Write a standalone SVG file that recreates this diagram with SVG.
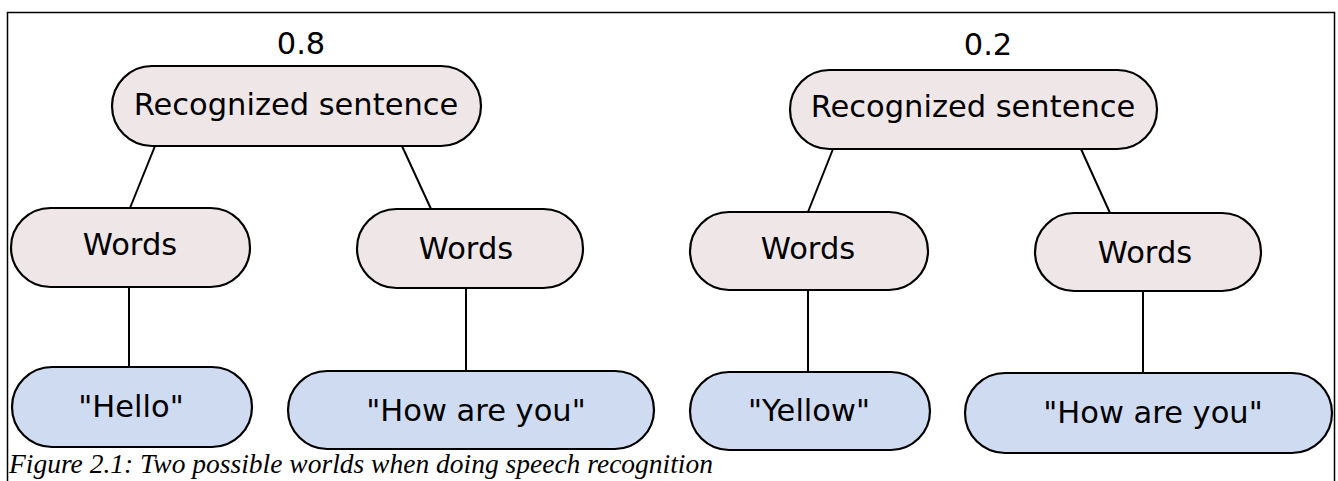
<svg xmlns="http://www.w3.org/2000/svg" width="1338" height="481" viewBox="0 0 1338 481">
  <style>
    .frame { fill: #ffffff; stroke: #000000; stroke-width: 1.5; }
    .node { stroke: #000000; stroke-width: 2.2; }
    .inner { fill: #efe7e7; }
    .leaf { fill: #cfdbf1; }
    .label { font-family: "DejaVu Sans", Verdana, sans-serif; font-size: 30.5px; fill: #000000; text-anchor: middle; }
    .edge { stroke: #000000; stroke-width: 2; fill: none; }
    .caption { font-family: "Liberation Serif", "Times New Roman", serif; font-style: italic; font-size: 27.5px; fill: #000000; }
  </style>

  <!-- page frame -->
  <rect class="frame" x="7.5" y="12.5" width="1327" height="490"/>

  <!-- probabilities -->
  <text class="label" x="301" y="54">0.8</text>
  <text class="label" x="988" y="55">0.2</text>

  <!-- connectors -->
  <g id="edges">
    <line class="edge" x1="155" y1="146" x2="130" y2="208"/>
    <line class="edge" x1="402" y1="146" x2="431" y2="209"/>
    <line class="edge" x1="129" y1="287" x2="129" y2="367"/>
    <line class="edge" x1="466" y1="288" x2="466" y2="371"/>
    <line class="edge" x1="833" y1="149" x2="808" y2="212"/>
    <line class="edge" x1="1081" y1="149" x2="1110" y2="213"/>
    <line class="edge" x1="808" y1="290" x2="808" y2="372"/>
    <line class="edge" x1="1143" y1="291" x2="1143" y2="373"/>
  </g>

  <!-- left world -->
  <g id="sentence-1">
    <rect class="node inner" x="112" y="66" width="369" height="80" rx="40" ry="40"/>
    <text class="label" x="296" y="115">Recognized sentence</text>
  </g>
  <g id="words-1a">
    <rect class="node inner" x="11" y="208" width="239" height="79" rx="39.5" ry="39.5"/>
    <text class="label" x="130" y="255">Words</text>
  </g>
  <g id="words-1b">
    <rect class="node inner" x="357" y="209" width="226" height="79" rx="39.5" ry="39.5"/>
    <text class="label" x="466" y="259">Words</text>
  </g>
  <g id="hello">
    <rect class="node leaf" x="12" y="367" width="240" height="80" rx="40" ry="40"/>
    <text class="label" x="131" y="417">"Hello"</text>
  </g>
  <g id="how-are-you-1">
    <rect class="node leaf" x="288" y="371" width="366" height="78" rx="39" ry="39"/>
    <text class="label" x="476" y="421">"How are you"</text>
  </g>

  <!-- right world -->
  <g id="sentence-2">
    <rect class="node inner" x="790" y="70" width="367" height="79" rx="39.5" ry="39.5"/>
    <text class="label" x="973" y="117">Recognized sentence</text>
  </g>
  <g id="words-2a">
    <rect class="node inner" x="690" y="212" width="238" height="78" rx="39" ry="39"/>
    <text class="label" x="808" y="259">Words</text>
  </g>
  <g id="words-2b">
    <rect class="node inner" x="1035" y="213" width="226" height="78" rx="39" ry="39"/>
    <text class="label" x="1145" y="263">Words</text>
  </g>
  <g id="yellow">
    <rect class="node leaf" x="690" y="372" width="240" height="78" rx="39" ry="39"/>
    <text class="label" x="809" y="421">"Yellow"</text>
  </g>
  <g id="how-are-you-2">
    <rect class="node leaf" x="965" y="373" width="367" height="80" rx="40" ry="40"/>
    <text class="label" x="1153" y="423">"How are you"</text>
  </g>

  <text class="caption" x="9" y="473">Figure 2.1: Two possible worlds when doing speech recognition</text>
</svg>
